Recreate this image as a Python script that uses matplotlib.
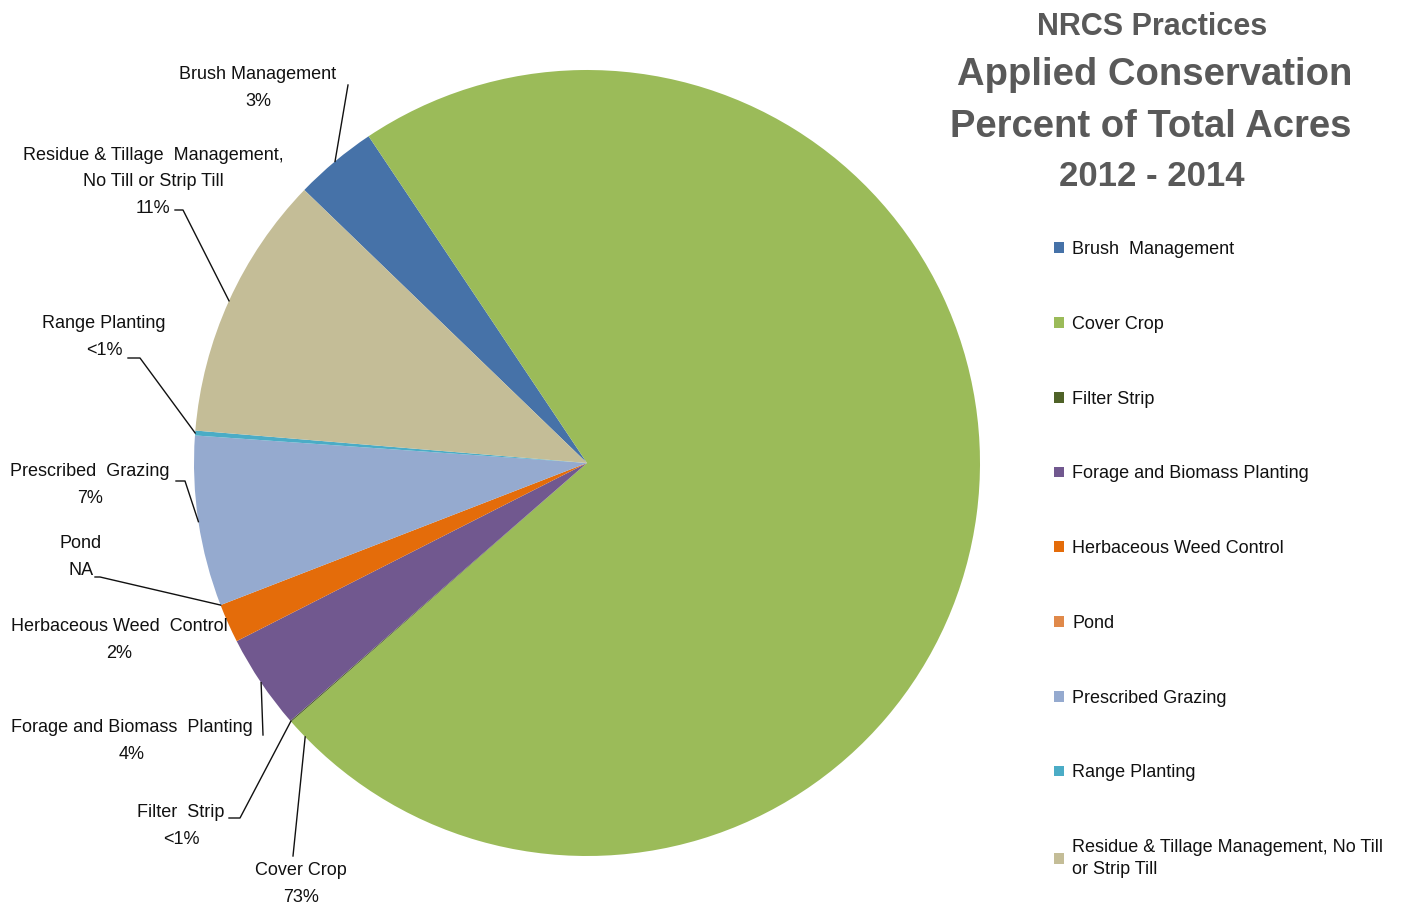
import numpy as np
import matplotlib
matplotlib.use('Agg')
import matplotlib.pyplot as plt
from matplotlib.patches import Patch

plt.rcParams['font.family'] = ['Liberation Sans', 'DejaVu Sans']

# data (percent of total acres)
practices = ['Brush Management', 'Cover Crop', 'Filter Strip', 'Forage and Biomass Planting',
             'Herbaceous Weed Control', 'Pond', 'Prescribed Grazing', 'Range Planting',
             'Residue & Tillage Management, No Till or Strip Till']
acres_pct = [3.4, 72.9, 0.05, 3.9, 1.6, 0.0, 7.0, 0.2, 10.9]
colors = ['#4672A8', '#9BBB59', '#4F6228', '#71588F', '#E46C0A',
          '#E0894A', '#95AACF', '#4BACC6', '#C4BD97']
slice_labels = ['Brush Management', 'Cover Crop', 'Filter  Strip', 'Forage and Biomass  Planting',
                'Herbaceous Weed  Control', 'Pond', 'Prescribed  Grazing', 'Range Planting',
                'Residue & Tillage  Management,\nNo Till or Strip Till']
legend_labels = ['Brush  Management', 'Cover Crop', 'Filter Strip', 'Forage and Biomass Planting',
                 'Herbaceous Weed Control', 'Pond', 'Prescribed Grazing', 'Range Planting',
                 'Residue & Tillage Management, No Till\nor Strip Till']

W, H = 1401, 910
CX, CY, R = 587, 463, 393

fig = plt.figure(figsize=(W / 100, H / 100), dpi=100)
ax = fig.add_axes([(CX - R) / W, (H - CY - R) / H, 2 * R / W, 2 * R / H])
wedges, _ = ax.pie(acres_pct, colors=colors, startangle=136, counterclock=False,
                   radius=1, wedgeprops=dict(linewidth=0))
ax.set_xlim(-1, 1)
ax.set_ylim(-1, 1)
ax.set_aspect('equal')
ax.axis('off')


def px(x, y):
    return (x - CX) / R, (CY - y) / R


# label layout: text centre, elbow point, tail end (pixels), anchor
layout = {
    'Brush Management': ((258, 88), (348, 85), None, 'mid'),
    'Cover Crop': ((301, 884), (293, 856), None, 'end'),
    'Filter Strip': ((181, 826), (240, 818), (229, 818), 'mid'),
    'Forage and Biomass Planting': ((132, 741), (263, 735), None, 'mid'),
    'Herbaceous Weed Control': ((119, 640), None, None, 'mid'),
    'Pond': ((81, 557), (100, 577), (95, 577), 'mid'),
    'Prescribed Grazing': ((90, 485), (185, 481), (176, 481), 'mid'),
    'Range Planting': ((104, 337), (140, 358), (128, 358), 'mid'),
    'Residue & Tillage Management, No Till or Strip Till': ((153, 182), (183, 210), (175, 210), 'mid'),
}

total = sum(acres_pct)
for name, lab, val, w in zip(practices, slice_labels, acres_pct, wedges):
    if val == 0:
        pct = 'NA'
    elif val / total * 100 < 1:
        pct = '<1%'
    else:
        pct = '{:.0f}%'.format(val / total * 100)
    (tx, ty), elbow, tail, anchor = layout[name]
    ax.text(*px(tx, ty), lab + '\n' + pct, ha='center', va='center', fontsize=13,
            color='#111111', linespacing=1.75)
    if elbow is None:
        continue
    if anchor == 'end':
        ang = w.theta1 + 3
    else:
        ang = (w.theta1 + w.theta2) / 2
    a = np.deg2rad(ang)
    xs = [np.cos(a), px(*elbow)[0]]
    ys = [np.sin(a), px(*elbow)[1]]
    if tail is not None:
        xs.append(px(*tail)[0])
        ys.append(px(*tail)[1])
    ax.plot(xs, ys, color='#111111', lw=1, clip_on=False)

# title
title_color = '#595959'
fig.text(1152 / W, 1 - 27 / H, 'NRCS Practices', ha='center', va='center',
         fontsize=22, fontweight='bold', color=title_color)
fig.text(1155 / W, 1 - 75 / H, 'Applied Conservation', ha='center', va='center',
         fontsize=27.5, fontweight='bold', color=title_color)
fig.text(1151 / W, 1 - 127 / H, 'Percent of Total Acres', ha='center', va='center',
         fontsize=27.5, fontweight='bold', color=title_color)
fig.text(1152 / W, 1 - 177 / H, '2012 - 2014', ha='center', va='center',
         fontsize=25, fontweight='bold', color=title_color)

handles = [Patch(facecolor=c, edgecolor='none') for c in colors]
leg = fig.legend(handles, legend_labels, loc='upper left',
                 bbox_to_anchor=(1054 / W, 1 - 241 / H),
                 frameon=False, fontsize=13, handlelength=0.55, handleheight=0.55,
                 handletextpad=0.45, labelspacing=3.2, borderpad=0, borderaxespad=0,
                 labelcolor='#111111')
for t in leg.get_texts():
    t.set_linespacing(1.4)

fig.savefig('out.png', dpi=100)
